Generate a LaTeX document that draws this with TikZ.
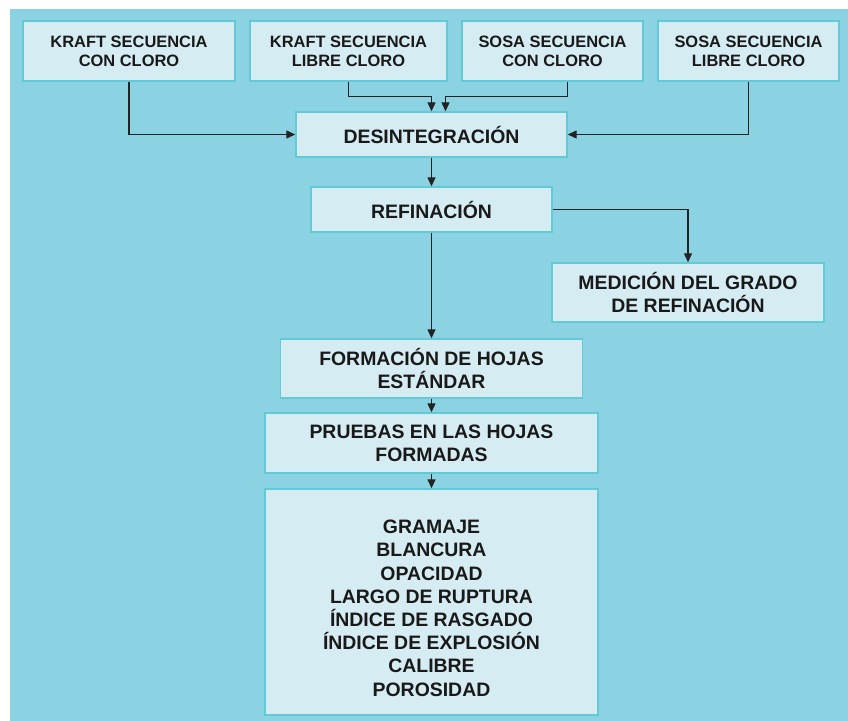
\documentclass[tikz,border=0pt]{standalone}
\usepackage{fontspec}
\setmainfont{Liberation Sans}
\usetikzlibrary{arrows.meta}
\definecolor{fondo}{RGB}{139,211,226}
\definecolor{relleno}{RGB}{214,236,243}
\definecolor{borde}{RGB}{98,201,214}
\definecolor{linea}{RGB}{35,35,35}

\begin{document}
\begin{tikzpicture}[x=1bp, y=-1bp, >={Triangle[length=9bp,width=8bp]},
    caja/.style={draw=borde, line width=1.4bp, fill=relleno, inner sep=0pt, align=center,
      text=black!90, font=\bfseries\fontsize{19.5}{23}\selectfont},
    chica/.style={caja, minimum height=60bp, font=\bfseries\fontsize{16.5}{19}\selectfont},
    flecha/.style={->, draw=linea, line width=1.3bp}]

    \useasboundingbox (0,0) rectangle (848,721);
    \fill[white] (0,0) rectangle (848,721);
    \fill[fondo] (10,9) rectangle (848,721);

    \node[chica, minimum width=212bp] (a) at (129, 51) {KRAFT SECUENCIA\\CON CLORO};
    \node[chica, minimum width=197bp] (b) at (348.5, 51) {KRAFT SECUENCIA\\LIBRE CLORO};
    \node[chica, minimum width=181bp] (c) at (552.5, 51) {SOSA SECUENCIA\\CON CLORO};
    \node[chica, minimum width=181bp] (d) at (748.5, 51) {SOSA SECUENCIA\\LIBRE CLORO};
    \node[caja, minimum width=271bp, minimum height=45bp] (e) at (431.5, 134.5) {DESINTEGRACIÓN};
    \node[caja, minimum width=241bp, minimum height=45bp] (f) at (431.5, 209.5) {REFINACIÓN};
    \node[caja, minimum width=272bp, minimum height=59bp] (g) at (688, 292.5) {MEDICIÓN DEL GRADO\\DE REFINACIÓN};
    \node[caja, minimum width=302bp, minimum height=59bp] (h) at (431.5, 368.5) {FORMACIÓN DE HOJAS\\ESTÁNDAR};
    \node[caja, minimum width=333bp, minimum height=60bp] (i) at (431.5, 443) {PRUEBAS EN LAS HOJAS\\FORMADAS};
    \node[caja, minimum width=333bp, minimum height=226bp, font=\bfseries\fontsize{19.5}{23.3}\selectfont] (j) at (431.5, 602)
      {\rule{0pt}{26bp}GRAMAJE\\BLANCURA\\OPACIDAD\\LARGO DE RUPTURA\\ÍNDICE DE RASGADO\\ÍNDICE DE EXPLOSIÓN\\CALIBRE\\POROSIDAD};

    \draw [flecha] (a.south) |- (e.west);
    \draw [flecha] (b.south) -- ++(0,15) -| (e.north);
    \draw [flecha] ([xshift=15bp]c.south) -- ++(0,15) -| ([xshift=14bp]e.north);
    \draw [flecha] (d.south) |- (e.east);
    \draw [flecha] (e) to (f);
    \draw [flecha] (f.east) -| (g.north);
    \draw [flecha] (f) to (h);
    \draw [flecha] (h) to (i);
    \draw [flecha] (i) to (j);

\end{tikzpicture}
\end{document}
